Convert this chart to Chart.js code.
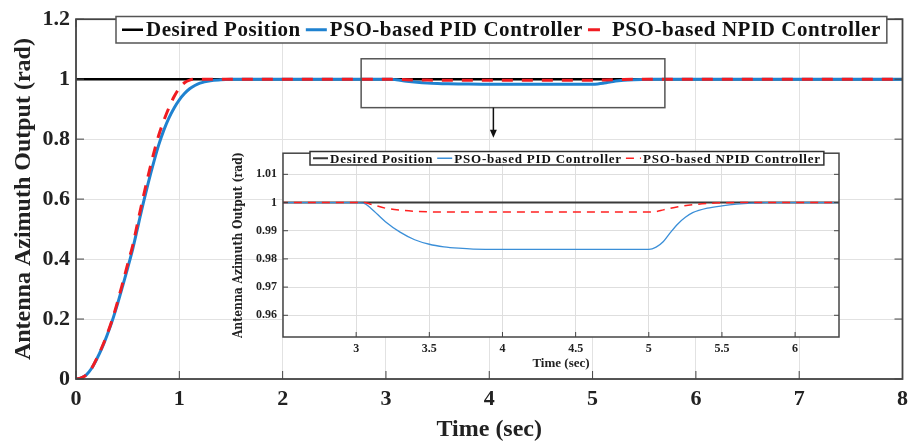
<!DOCTYPE html>
<html>
<head>
<meta charset="utf-8">
<script src="https://cdn.jsdelivr.net/npm/chart.js@4.4.0/dist/chart.umd.min.js"></script>
<style>
  html, body { margin: 0; padding: 0; background: #fff; }
  #wrap { position: relative; width: 915px; height: 445px; }
  .box { position: absolute; }
</style>
</head>
<body>
<div id="wrap">
  <div class="box" style="left:0;top:0;width:915px;height:445px"><canvas id="main"></canvas></div>
  <div class="box" style="left:200px;top:140px;width:660px;height:235px"><canvas id="inset"></canvas></div>
</div>
<script>
// desired position (step)
const refT = [0, 8];
const refY = [1, 1];

// PSO-based PID controller
const pidT = [0, 0.05, 0.1, 0.15, 0.2, 0.25, 0.3, 0.35, 0.4, 0.45,
              0.5, 0.55, 0.6, 0.65, 0.7, 0.75, 0.8, 0.85, 0.9, 0.95,
              1.0, 1.05, 1.1, 1.15, 1.2, 1.3, 1.4, 1.5, 1.7, 3,
              3.05, 3.1, 3.2, 3.3, 3.4, 3.5, 3.6, 3.7, 3.8, 4,
              4.5, 5, 5.05, 5.1, 5.15, 5.2, 5.25, 5.3, 5.4, 5.5,
              5.6, 5.7, 5.8, 6, 7, 8];
const pidY = [0, 0.004, 0.014, 0.035, 0.066, 0.102, 0.145, 0.193, 0.248, 0.308,
              0.37, 0.435, 0.51, 0.585, 0.655, 0.72, 0.78, 0.83, 0.871, 0.904,
              0.931, 0.952, 0.968, 0.979, 0.987, 0.995, 0.998, 0.9995, 1, 1,
              0.9998, 0.998, 0.9932, 0.9895, 0.9868, 0.9852, 0.9843, 0.9838, 0.9835, 0.9834,
              0.9834, 0.9834, 0.9842, 0.9862, 0.9895, 0.9925, 0.9948, 0.9964, 0.998, 0.9988,
              0.9994, 0.9998, 1, 1, 1, 1];

// PSO-based NPID controller
const npidT = [0, 0.05, 0.1, 0.15, 0.2, 0.25, 0.3, 0.35, 0.4, 0.45,
               0.5, 0.55, 0.6, 0.65, 0.7, 0.75, 0.8, 0.85, 0.9, 0.95,
               1.0, 1.05, 1.1, 1.15, 2, 3, 3.05, 3.1, 3.2, 3.3,
               3.4, 3.5, 3.6, 4, 5, 5.05, 5.1, 5.2, 5.3, 5.45,
               5.6, 6, 8];
const npidY = [0, 0.004, 0.014, 0.035, 0.068, 0.105, 0.148, 0.197, 0.255, 0.318,
               0.383, 0.447, 0.527, 0.605, 0.68, 0.75, 0.812, 0.862, 0.905, 0.942,
               0.97, 0.988, 0.997, 1, 1, 1, 1, 0.9994, 0.998, 0.9973,
               0.9969, 0.9967, 0.9966, 0.9966, 0.9966, 0.9968, 0.9974, 0.9985, 0.9992, 0.9998,
               1, 1, 1];

const labels = ['Desired Position', 'PSO-based PID Controller', 'PSO-based NPID Controller'];
const insetXTicks = [3, 3.5, 4, 4.5, 5, 5.5, 6];
const insetYTicks = [0.96, 0.97, 0.98, 0.99, 1, 1.01];

// zoom window drawn on the main plot (data units)
const zoomWin = { x0: 2.76, x1: 5.70, y0: 0.905, y1: 1.068, arrowX: 4.04, arrowTip: 0.805 };

const serif = "'Liberation Serif', 'Times New Roman', serif";
const blue = '#1f82d0';
const red = '#f01c22';

function pts(t, y) { return t.map((v, i) => ({ x: v, y: y[i] })); }
function num(v) { return String(+(+v).toFixed(3)); }

// inward tick marks + box frame, MATLAB style
function frameTicks(len, color, lw) {
  return {
    id: 'frameTicks',
    afterDatasetsDraw(chart) {
      const { ctx, chartArea: a, scales } = chart;
      ctx.save();
      ctx.strokeStyle = color;
      ctx.lineWidth = 1;
      scales.x.ticks.forEach(t => {
        const px = scales.x.getPixelForValue(t.value);
        ctx.beginPath();
        ctx.moveTo(px, a.bottom); ctx.lineTo(px, a.bottom - len);
        ctx.moveTo(px, a.top); ctx.lineTo(px, a.top + len);
        ctx.stroke();
      });
      scales.y.ticks.forEach(t => {
        const py = scales.y.getPixelForValue(t.value);
        ctx.beginPath();
        ctx.moveTo(a.left, py); ctx.lineTo(a.left + len, py);
        ctx.moveTo(a.right, py); ctx.lineTo(a.right - len, py);
        ctx.stroke();
      });
      ctx.lineWidth = lw;
      ctx.strokeRect(a.left, a.top, a.right - a.left, a.bottom - a.top);
      ctx.restore();
    }
  };
}

function legendBox(o) {
  return {
    id: 'legendBox',
    afterDraw(chart) {
      const ctx = chart.ctx;
      ctx.save();
      ctx.font = o.font;
      ctx.letterSpacing = o.spacing;
      const widths = o.items.map(it => ctx.measureText(it.label).width);
      let total = o.pad * 2;
      widths.forEach((w, i) => { total += o.sample + o.gap1 + w + (i < widths.length - 1 ? o.gap2 : 0); });
      ctx.fillStyle = '#fff';
      ctx.fillRect(o.x, o.y, total, o.h);
      ctx.strokeStyle = o.border;
      ctx.lineWidth = 1.5;
      ctx.strokeRect(o.x, o.y, total, o.h);
      let cx = o.x + o.pad;
      const cy = o.y + o.h / 2;
      o.items.forEach((it, i) => {
        ctx.beginPath();
        ctx.strokeStyle = it.color;
        ctx.lineWidth = it.width;
        ctx.setLineDash(it.dash || []);
        ctx.moveTo(cx, cy); ctx.lineTo(cx + o.sample, cy);
        ctx.stroke();
        ctx.setLineDash([]);
        cx += o.sample + o.gap1;
        ctx.fillStyle = '#111';
        ctx.textBaseline = 'middle';
        ctx.textAlign = 'left';
        ctx.fillText(it.label, cx, cy + 1);
        cx += widths[i] + o.gap2;
      });
      ctx.restore();
    }
  };
}

const zoomMark = {
  id: 'zoomMark',
  afterDatasetsDraw(chart) {
    const { ctx, scales: { x, y } } = chart;
    const l = x.getPixelForValue(zoomWin.x0), r = x.getPixelForValue(zoomWin.x1);
    const b = y.getPixelForValue(zoomWin.y0), t = y.getPixelForValue(zoomWin.y1);
    const ax = x.getPixelForValue(zoomWin.arrowX), tip = y.getPixelForValue(zoomWin.arrowTip);
    ctx.save();
    ctx.strokeStyle = '#555';
    ctx.lineWidth = 1.5;
    ctx.strokeRect(l, t, r - l, b - t);
    ctx.strokeStyle = '#111';
    ctx.beginPath();
    ctx.moveTo(ax, b); ctx.lineTo(ax, tip - 4);
    ctx.stroke();
    ctx.fillStyle = '#111';
    ctx.beginPath();
    ctx.moveTo(ax, tip); ctx.lineTo(ax - 3.5, tip - 8); ctx.lineTo(ax + 3.5, tip - 8);
    ctx.closePath();
    ctx.fill();
    ctx.restore();
  }
};

const whiteArea = {
  id: 'whiteArea',
  beforeDraw(chart) {
    const { ctx, chartArea: a } = chart;
    ctx.save();
    ctx.fillStyle = '#fff';
    ctx.fillRect(a.left, a.top, a.right - a.left, a.bottom - a.top);
    ctx.restore();
  }
};

function font(size, weight, fam) { return { family: fam || serif, size: size, weight: weight }; }

// main chart
new Chart(document.getElementById('main'), {
  type: 'line',
  data: {
    datasets: [
      { label: labels[0], data: pts(refT, refY), borderColor: '#000', borderWidth: 2.5, order: 3 },
      { label: labels[1], data: pts(pidT, pidY), borderColor: blue, borderWidth: 3, order: 2 },
      { label: labels[2], data: pts(npidT, npidY), borderColor: red, borderWidth: 3, borderDash: [11, 9], order: 1 }
    ]
  },
  options: {
    responsive: true, maintainAspectRatio: false, animation: false,
    layout: { padding: { top: 16, right: 8, left: 0, bottom: 0 } },
    elements: { point: { radius: 0 }, line: { cubicInterpolationMode: 'monotone', fill: false } },
    plugins: { legend: { display: false }, tooltip: { enabled: false } },
    scales: {
      x: {
        type: 'linear', min: 0, max: 8,
        ticks: { stepSize: 1, padding: 7, color: '#222', font: font(22, 'bold'), callback: num },
        grid: { color: '#e2e2e2', drawTicks: false },
        border: { display: false },
        title: { display: true, text: 'Time (sec)', color: '#222', font: font(24, 'bold'), padding: { top: 0, bottom: 1 } },
        afterFit: s => { s.height = 66; }
      },
      y: {
        min: 0, max: 1.2,
        ticks: { stepSize: 0.2, padding: 6, color: '#222', font: font(22, 'bold'), callback: num },
        grid: { color: '#e2e2e2', drawTicks: false },
        border: { display: false },
        title: { display: true, text: 'Antenna Azimuth Output (rad)', color: '#222', font: font(24, 'bold'), padding: { top: 9, bottom: 0 } },
        afterFit: s => { s.width = 76; }
      }
    }
  },
  plugins: [frameTicks(8, '#444', 1.8), zoomMark, legendBox({
    x: 116, y: 16.5, h: 26.5, pad: 6, sample: 21, gap1: 3, gap2: 5,
    font: 'bold 21px ' + serif, spacing: '0.55px', border: '#555',
    items: [
      { label: labels[0], color: '#000', width: 2.5 },
      { label: labels[1], color: blue, width: 3 },
      { label: labels[2], color: red, width: 3, dash: [12, 9] }
    ]
  })]
});

// zoomed inset
new Chart(document.getElementById('inset'), {
  type: 'line',
  data: {
    datasets: [
      { label: labels[0], data: pts(refT, refY), borderColor: '#3a3a3a', borderWidth: 2, order: 3 },
      { label: labels[1], data: pts(pidT, pidY), borderColor: '#3b8fd8', borderWidth: 1.3, order: 2 },
      { label: labels[2], data: pts(npidT, npidY), borderColor: '#ff2020', borderWidth: 1.5, borderDash: [8, 6], order: 1 }
    ]
  },
  options: {
    responsive: true, maintainAspectRatio: false, animation: false,
    layout: { padding: { top: 11, right: 21, left: 0, bottom: 0 } },
    elements: { point: { radius: 0 }, line: { cubicInterpolationMode: 'monotone', fill: false } },
    plugins: { legend: { display: false }, tooltip: { enabled: false } },
    scales: {
      x: {
        type: 'linear', min: 2.5, max: 6.3,
        afterBuildTicks: s => { s.ticks = insetXTicks.map(v => ({ value: v })); },
        ticks: { padding: 5, color: '#222', font: font(12, 'bold'), callback: num },
        grid: { color: '#dedede', drawTicks: false },
        border: { display: false },
        title: { display: true, text: 'Time (sec)', color: '#222', font: font(13, 'bold'), padding: { top: 0, bottom: 4 } },
        afterFit: s => { s.height = 38; }
      },
      y: {
        min: 0.9523, max: 1.0175,
        afterBuildTicks: s => { s.ticks = insetYTicks.map(v => ({ value: v })); },
        ticks: { padding: 6, color: '#222', font: font(12, 'bold'), callback: num },
        grid: { color: '#dedede', drawTicks: false },
        border: { display: false },
        title: { display: true, text: 'Antenna Azimuth Output (rad)', color: '#222', font: font(12, 'bold', "'DejaVu Serif Condensed', " + serif), padding: { top: 32, bottom: 0 } },
        afterFit: s => { s.width = 83; }
      }
    }
  },
  plugins: [whiteArea, frameTicks(5, '#444', 1.5), legendBox({
    x: 110, y: 11.5, h: 13.5, pad: 3, sample: 15, gap1: 2, gap2: 4,
    font: 'bold 13px ' + serif, spacing: '0.8px', border: '#333',
    items: [
      { label: labels[0], color: '#3a3a3a', width: 2 },
      { label: labels[1], color: '#3b8fd8', width: 1.5 },
      { label: labels[2], color: '#ff2020', width: 1.5, dash: [8, 6] }
    ]
  })]
});
</script>
</body>
</html>
